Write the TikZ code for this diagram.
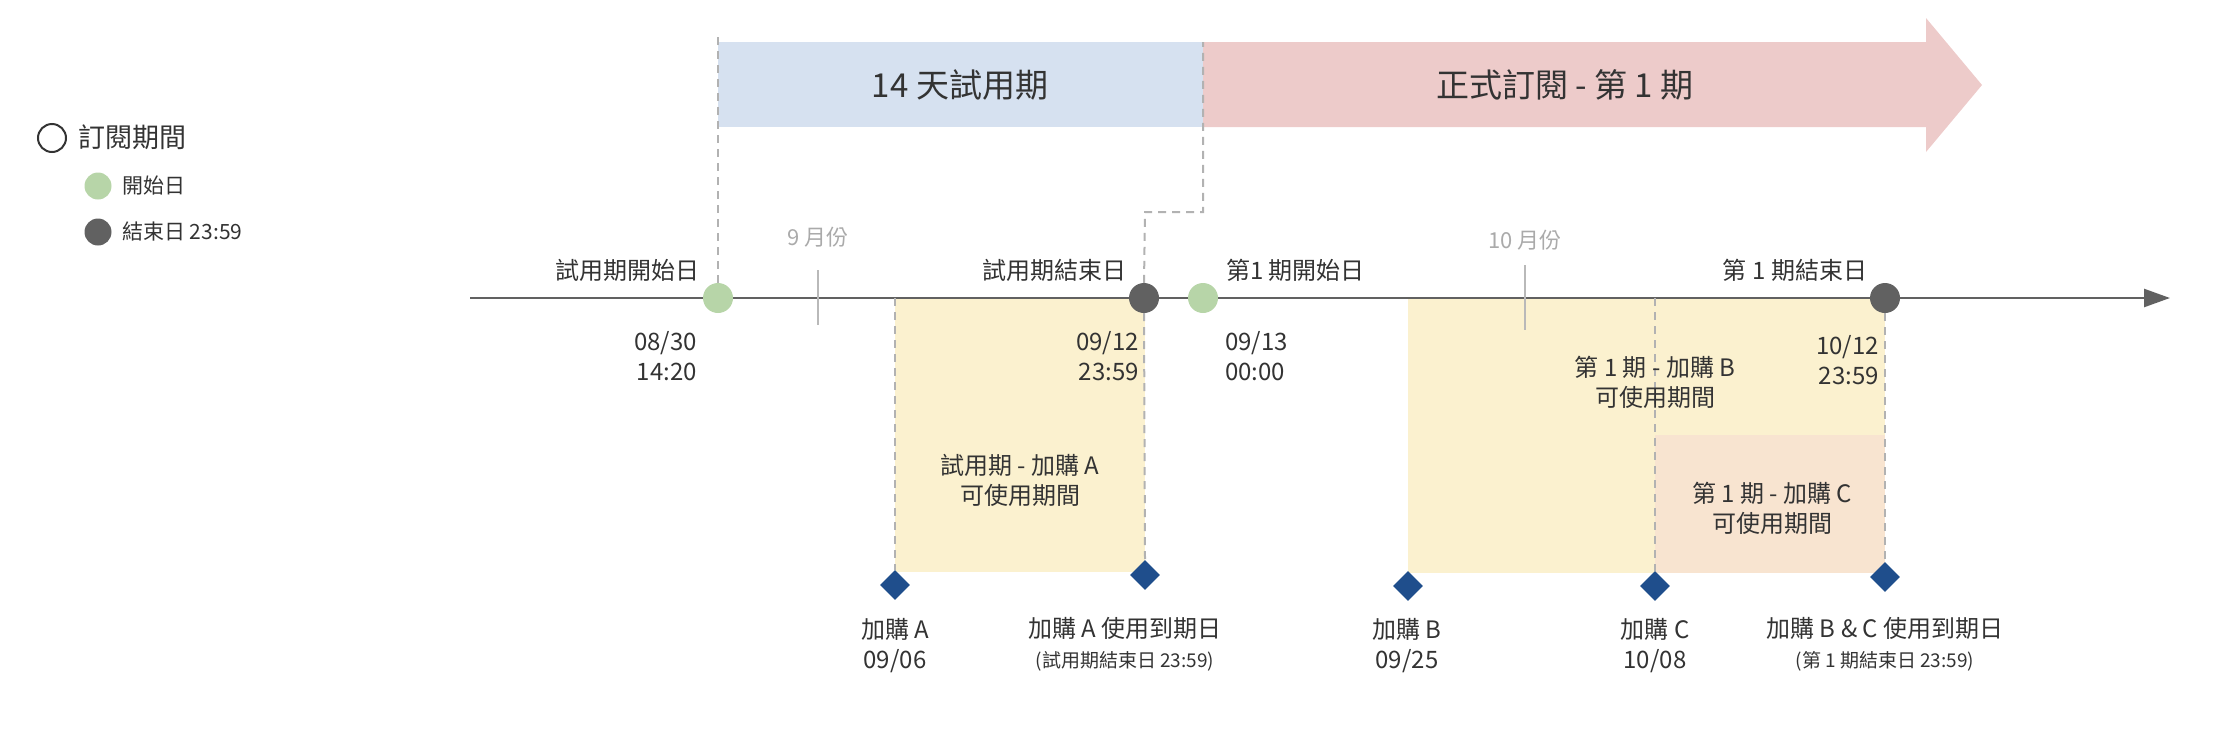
\documentclass[tikz,border=0pt]{standalone}
\usepackage{fontspec}
\setmainfont{Noto Sans CJK TC}
\usetikzlibrary{arrows.meta,shapes.geometric}
\definecolor{bandblue}{HTML}{D6E1F0}
\definecolor{bandpink}{HTML}{EDCBCA}
\definecolor{boxyel}{HTML}{FBF1CF}
\definecolor{boxpeach}{HTML}{F8E4D0}
\definecolor{dotgreen}{HTML}{B7D5A8}
\definecolor{dotdark}{HTML}{616161}
\definecolor{dia}{HTML}{1F4E8C}
\definecolor{txt}{HTML}{333333}
\definecolor{gtxt}{HTML}{AAAAAA}
\tikzset{
 lbl/.style={text=txt,font=\fontsize{24}{30}\selectfont,inner sep=0pt,align=center},
 sml/.style={text=txt,font=\fontsize{19}{24}\selectfont,inner sep=0pt,align=center},
 band/.style={text=txt,font=\fontsize{33}{40}\selectfont,inner sep=0pt},
 gdot/.style={circle,fill=dotgreen,minimum size=30pt,inner sep=0pt},
 ddot/.style={circle,fill=dotdark,minimum size=30pt,inner sep=0pt},
 dmd/.style={diamond,fill=dia,minimum size=30pt,inner sep=0pt},
 dsh/.style={draw=gray!60,line width=2pt,dash pattern=on 8pt off 6pt},
 tick/.style={draw=gray!55,line width=2.5pt},
}
\begin{document}
\begin{tikzpicture}[x=1pt,y=-1pt,text=txt]
\useasboundingbox (0,0) rectangle (2238,742);
% bands
\fill[bandblue] (718,42) rectangle (1203,127);
\fill[bandpink] (1203,42) -- (1926,42) -- (1926,18) -- (1982,85) -- (1926,152) -- (1926,127) -- (1203,127) -- cycle;
\node[band] (tb) at (960,85) {14 天試用期};
\node[band] (sb) at (1565,85) {正式訂閱 - 第 1 期};
% boxes
\fill[boxyel] (895,298) rectangle (1145,572);
\fill[boxyel] (1408,298) rectangle (1885,573);
\fill[boxpeach] (1655,435) rectangle (1885,573);
% timeline
\coordinate (t0) at (470,298);
\coordinate (t1) at (2170,298);
\draw[dotdark,line width=2.5pt,-{Triangle[length=26pt,width=18pt]}] (t0) -- (t1);
% ticks
\draw[tick] (818,270) -- (818,325);
\draw[tick] (1525,265) -- (1525,330);
\node[lbl,text=gtxt,font=\fontsize{22}{26}\selectfont] (m9) at (818,237) {9 月份};
\node[lbl,text=gtxt,font=\fontsize{22}{26}\selectfont] (m10) at (1525,240) {10 月份};
% dots and diamonds
\node[gdot] (s1) at (718,298) {};
\node[ddot] (e1) at (1144,298) {};
\node[gdot] (s2) at (1203,298) {};
\node[ddot] (e2) at (1885,298) {};
\node[dmd] (dA) at (895,585) {};
\node[dmd] (dAe) at (1145,575) {};
\node[dmd] (dB) at (1408,586) {};
\node[dmd] (dC) at (1655,586) {};
\node[dmd] (dBC) at (1885,577) {};
% dashed lines
\draw[dsh] (s1.north) -- (718,35);
\draw[dsh] (e1.north) -- (1145,212) -- (1203,212) -- (1203,42);
\draw[dsh] (895,298) -- (dA.north);
\draw[dsh] (e1.south) -- (dAe.north);
\draw[dsh] (1655,298) -- (dC.north);
\draw[dsh] (e2.south) -- (dBC.north);
% timeline labels
\node[lbl,anchor=east] (l1) at (700,270) {試用期開始日};
\node[lbl,anchor=east] (l2) at (1127,270) {試用期結束日};
\node[lbl,anchor=west] (l3) at (1226,270) {第1 期開始日};
\node[lbl] (l4) at (1795,270) {第 1 期結束日};
\node[lbl,anchor=east,align=right] (d1) at (697,356) {08/30\\14:20};
\node[lbl,anchor=east,align=right] (d2) at (1139,356) {09/12\\23:59};
\node[lbl,anchor=west,align=left] (d3) at (1225,356) {09/13\\00:00};
\node[lbl,anchor=east,align=right] (d4) at (1879,360) {10/12\\23:59};
% box texts
\node[lbl] (bA) at (1020,480) {試用期 - 加購 A\\可使用期間};
\node[lbl] (bB) at (1655,382) {第 1 期 - 加購 B\\可使用期間};
\node[lbl] (bC) at (1772,508) {第 1 期 - 加購 C\\可使用期間};
% bottom labels
\node[lbl] (pA) at (895,646) {加購 A\\09/06};
\node[lbl] (pAe) at (1125,628) {加購 A 使用到期日};
\node[sml] (pAe2) at (1125,661) {(試用期結束日 23:59)};
\node[lbl] (pB) at (1407,646) {加購 B\\09/25};
\node[lbl] (pC) at (1655,646) {加購 C\\10/08};
\node[lbl] (pBC) at (1885,628) {加購 B \& C 使用到期日};
\node[sml] (pBC2) at (1885,661) {(第 1 期結束日 23:59)};
% legend
\node[circle,draw=txt,line width=2pt,minimum size=28pt,inner sep=0pt] (lg0) at (52,138) {};
\node[lbl,anchor=west,font=\fontsize{27}{32}\selectfont] (lg0t) at (78,137) {訂閱期間};
\node[gdot,minimum size=27pt] (lg1) at (98,186) {};
\node[lbl,anchor=west,font=\fontsize{21}{26}\selectfont] (lg1t) at (122,186) {開始日};
\node[ddot,minimum size=27pt] (lg2) at (98,232) {};
\node[lbl,anchor=west,font=\fontsize{21}{26}\selectfont] (lg2t) at (122,231) {結束日 23:59};
\end{tikzpicture}
\end{document}
